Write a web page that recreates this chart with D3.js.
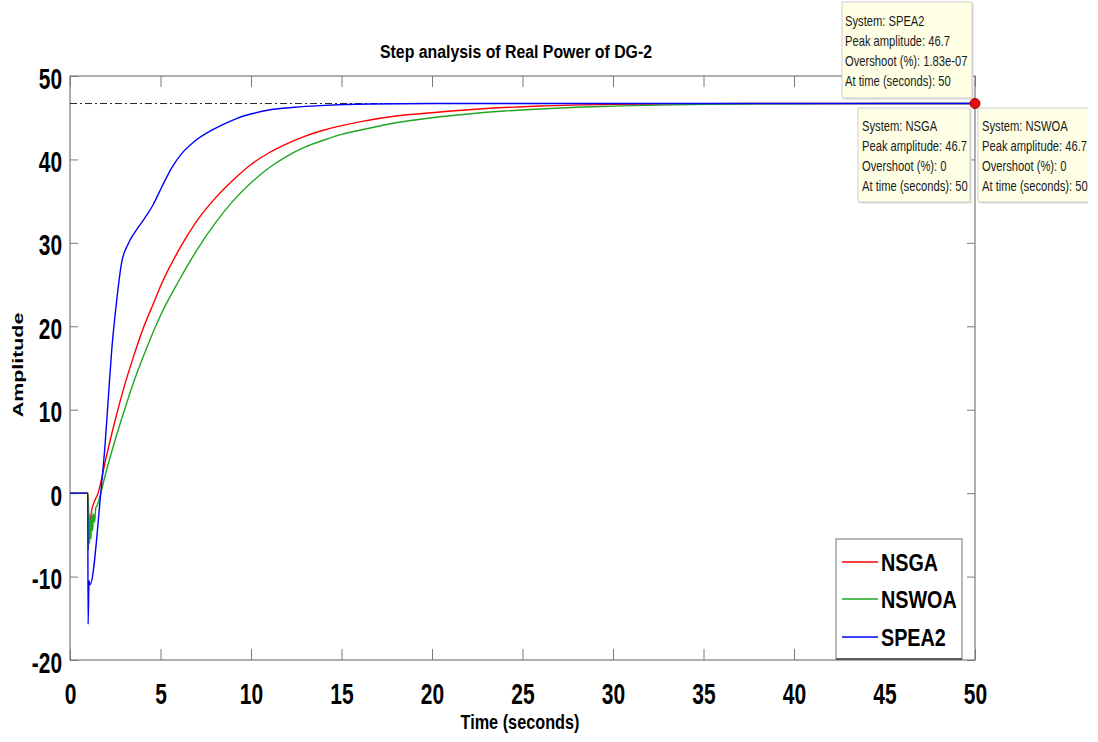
<!DOCTYPE html>
<html>
<head>
<meta charset="utf-8">
<script src="https://cdn.jsdelivr.net/npm/d3@7"></script>
<style>
  body { margin: 0; background: #fff; }
  text { font-family: "Liberation Sans", Arial, sans-serif; }
</style>
</head>
<body>
<div class="display"></div>
<script>
// values
const nsgaTime = [0, 1.0, 1.03, 1.1, 1.2, 1.35, 1.55, 2, 2.5, 3, 3.5, 4, 4.7, 5, 6, 7, 8, 9, 10, 11, 12, 13, 14, 16, 18, 20, 23, 26, 30, 35, 40, 50];
const nsgaAmp = [0, 0, -2.5, -3.5, -2, -1, 0, 4.3, 8.8, 12.8, 16.3, 19.5, 23.2, 24.8, 29.1, 32.6, 35.3, 37.5, 39.4, 40.8, 41.9, 42.8, 43.5, 44.5, 45.2, 45.6, 46.1, 46.4, 46.6, 46.68, 46.7, 46.7];

const nswoaTime = [0, 1.0, 1.02, 1.05, 1.08, 1.12, 1.16, 1.2, 1.25, 1.3, 1.36, 1.42, 1.5, 1.7, 2, 2.5, 3, 3.5, 4, 5, 6, 7, 8, 9, 10, 11, 12, 13, 14, 15, 16, 18, 20, 22, 24, 26, 28, 31, 35, 40, 45, 50];
const nswoaAmp = [0, 0, -6.8, -2.5, -6, -3, -5.5, -2.2, -4.5, -2.5, -3.5, -1.8, -1.5, 0, 2.6, 6.4, 9.9, 13.2, 16.1, 21.3, 25.4, 29.1, 32.3, 35.0, 37.2, 39.0, 40.4, 41.5, 42.3, 43.0, 43.5, 44.4, 45.0, 45.45, 45.8, 46.05, 46.25, 46.45, 46.6, 46.67, 46.7, 46.7];

const spea2Time = [0, 0.98, 1.0, 1.05, 1.1, 1.7, 1.93, 2.12, 2.3, 2.58, 2.85, 3.22, 3.59, 4.14, 4.6, 5.07, 5.62, 6.17, 6.9, 7.83, 8.56, 9.2, 10.1, 11.05, 12.4, 13.8, 16.6, 20, 50];
const spea2Amp = [0, 0, -15.7, -10.5, -11, 0, 5.6, 11.5, 17.0, 23.1, 27.6, 29.9, 31.3, 33.0, 34.6, 36.7, 39.0, 40.7, 42.2, 43.5, 44.3, 44.9, 45.5, 45.95, 46.25, 46.45, 46.65, 46.7, 46.7];

const seriesNames = ['NSGA', 'NSWOA', 'SPEA2'];
const seriesColors = ['#ff0000', '#1fa61f', '#0000ff'];
const xTicks = [0, 5, 10, 15, 20, 25, 30, 35, 40, 45, 50];
const yTicks = [-20, -10, 0, 10, 20, 30, 40, 50];
const finalValue = 46.7;

const tipLines = {
    SPEA2: ['System: SPEA2', 'Peak amplitude: 46.7', 'Overshoot (%): 1.83e-07', 'At time (seconds): 50'],
    NSGA: ['System: NSGA', 'Peak amplitude: 46.7', 'Overshoot (%): 0', 'At time (seconds): 50'],
    NSWOA: ['System: NSWOA', 'Peak amplitude: 46.7', 'Overshoot (%): 0', 'At time (seconds): 50']
};

const width = 1098;
const height = 742;
const plotLeft = 70, plotRight = 975, plotTop = 76, plotBottom = 660;
const axisColor = '#7a7a7a';

const svg = d3.select('.display')
    .append('svg')
    .attr('width', width)
    .attr('height', height);

// squeeze text horizontally about its x anchor
function squeeze(sel, k) {
    sel.each(function() {
        const t = d3.select(this);
        const x = +t.attr('x') || 0;
        t.attr('transform', `translate(${x},0) scale(${k},1) translate(${-x},0)`);
    });
}
function fitWidth(sel, w) {
    const bw = sel.node().getBBox().width;
    squeeze(sel, w / bw);
}

const xScale = d3.scaleLinear().domain([0, 50]).range([plotLeft, plotRight]);
const yScale = d3.scaleLinear().domain([-20, 50]).range([plotBottom, plotTop]);

// axes
const xAxis = svg.append('g')
    .attr('transform', `translate(0,${plotBottom})`)
    .call(d3.axisBottom(xScale).tickValues(xTicks).tickSizeInner(-11).tickSizeOuter(0).tickPadding(0)
        .tickFormat(d => String(d)));
xAxis.selectAll('text')
    .attr('y', 44).attr('dy', null)
    .attr('font-size', 30).attr('font-weight', 'bold').attr('fill', '#000')
    .attr('font-family', '"Liberation Sans", Arial, sans-serif');
squeeze(xAxis.selectAll('text'), 0.7);

const yAxis = svg.append('g')
    .attr('transform', `translate(${plotLeft},0)`)
    .call(d3.axisLeft(yScale).tickValues(yTicks).tickSizeInner(-8).tickSizeOuter(0)
        .tickFormat(d => String(d)));
yAxis.selectAll('text')
    .attr('x', -8).attr('dy', null).attr('y', 12)
    .attr('font-size', 29).attr('font-weight', 'bold').attr('fill', '#000')
    .attr('font-family', '"Liberation Sans", Arial, sans-serif');
squeeze(yAxis.selectAll('text'), 0.72);

svg.append('g')
    .attr('transform', `translate(0,${plotTop})`)
    .call(d3.axisTop(xScale).tickValues(xTicks).tickSizeInner(-11).tickSizeOuter(0).tickFormat(''));
svg.append('g')
    .attr('transform', `translate(${plotRight},0)`)
    .call(d3.axisRight(yScale).tickValues(yTicks).tickSizeInner(-8).tickSizeOuter(0).tickFormat(''));

svg.selectAll('.domain').remove();
svg.selectAll('.tick line').attr('stroke', axisColor);

svg.append('rect')
    .attr('x', plotLeft).attr('y', plotTop)
    .attr('width', plotRight - plotLeft).attr('height', plotBottom - plotTop)
    .attr('fill', 'none').attr('stroke', axisColor).attr('stroke-width', 1.2);

// steady-state line
svg.append('line')
    .attr('x1', xScale(0)).attr('x2', xScale(50))
    .attr('y1', yScale(finalValue)).attr('y2', yScale(finalValue))
    .attr('stroke', '#222').attr('stroke-width', 1)
    .attr('stroke-dasharray', '7,3,2,3');

// curves
const line = d3.line()
    .x(d => xScale(d[0]))
    .y(d => yScale(d[1]))
    .curve(d3.curveMonotoneX);

const series = [
    d3.zip(nsgaTime, nsgaAmp),
    d3.zip(nswoaTime, nswoaAmp),
    d3.zip(spea2Time, spea2Amp)
];

svg.selectAll('.curve')
    .data(series)
    .enter()
    .append('path')
    .attr('class', 'curve')
    .attr('d', line)
    .attr('fill', 'none')
    .attr('stroke', (d, i) => seriesColors[i])
    .attr('stroke-width', 1.4);

// title and labels
const title = svg.append('text')
    .attr('x', 516).attr('y', 58)
    .attr('text-anchor', 'middle')
    .attr('font-size', 18.5).attr('font-weight', 'bold')
    .text('Step analysis of Real Power of DG-2');
fitWidth(title, 272);

const xLabel = svg.append('text')
    .attr('x', 520).attr('y', 729)
    .attr('text-anchor', 'middle')
    .attr('font-size', 20).attr('font-weight', 'bold')
    .text('Time (seconds)');
fitWidth(xLabel, 119);

const yLabel = svg.append('g')
    .attr('transform', 'translate(23,365) rotate(-90)')
    .append('text')
    .attr('x', 0).attr('y', 0)
    .attr('text-anchor', 'middle')
    .attr('font-size', 14).attr('font-weight', 'bold')
    .text('Amplitude');
fitWidth(yLabel, 105);

// legend
const legend = svg.append('g').attr('id', 'legend');
legend.append('rect')
    .attr('x', 836).attr('y', 539)
    .attr('width', 126).attr('height', 120)
    .attr('fill', '#fff').attr('stroke', '#8a8a8a').attr('stroke-width', 1.2);
legend.append('line')
    .attr('x1', 836).attr('x2', 962).attr('y1', 659).attr('y2', 659)
    .attr('stroke', '#444').attr('stroke-width', 1.5);

const legendY = [562, 599, 637];
seriesNames.forEach((name, i) => {
    legend.append('line')
        .attr('x1', 842).attr('x2', 878)
        .attr('y1', legendY[i]).attr('y2', legendY[i])
        .attr('stroke', seriesColors[i]).attr('stroke-width', 1.4);
    const t = legend.append('text')
        .attr('x', 881).attr('y', legendY[i] + 9)
        .attr('font-size', 23).attr('font-weight', 'bold')
        .text(name);
    squeeze(t, 0.86);
});

// data tips
svg.append('clipPath').attr('id', 'tipclip')
    .append('rect').attr('x', 0).attr('y', 0).attr('width', 1088).attr('height', height);

const tips = svg.append('g').attr('clip-path', 'url(#tipclip)');
const tipBoxes = [
    { name: 'SPEA2', x: 842, y: 2, w: 130, h: 96, tx: 845, ty: 26 },
    { name: 'NSGA', x: 858, y: 108, w: 112, h: 94, tx: 862, ty: 131 },
    { name: 'NSWOA', x: 978, y: 108, w: 140, h: 94, tx: 982, ty: 131 }
];
tipBoxes.forEach(b => {
    tips.append('rect')
        .attr('x', b.x + 1.5).attr('y', b.y + 1.5)
        .attr('width', b.w).attr('height', b.h)
        .attr('fill', '#d8d8d8');
    tips.append('rect')
        .attr('x', b.x).attr('y', b.y)
        .attr('width', b.w).attr('height', b.h)
        .attr('fill', '#ffffe6').attr('stroke', '#cfcfcf').attr('stroke-width', 1);
    tipLines[b.name].forEach((s, j) => {
        const t = tips.append('text')
            .attr('x', b.tx).attr('y', b.ty + j * 20)
            .attr('font-size', 14).attr('fill', '#1a1a1a')
            .text(s);
        squeeze(t, 0.8);
    });
});

// marker at the peak
svg.append('circle')
    .attr('cx', xScale(50)).attr('cy', yScale(finalValue))
    .attr('r', 5)
    .attr('fill', '#e01010').attr('stroke', '#a00000').attr('stroke-width', 1);
</script>
</body>
</html>
